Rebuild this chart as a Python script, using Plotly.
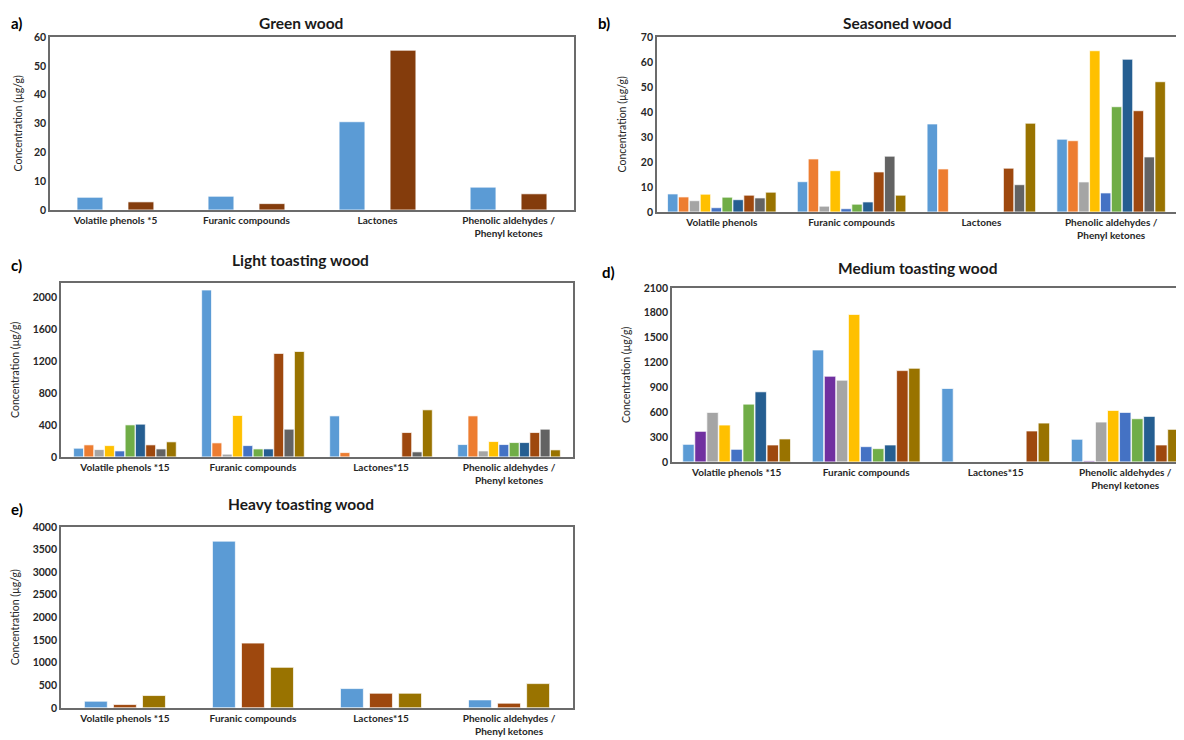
import plotly.graph_objects as go

W, H = 1184, 740

# ---------------- data ----------------
cats_a = ["Volatile phenols *5", "Furanic compounds", "Lactones", "Phenolic aldehydes /<br>Phenyl ketones"]
cats_b = ["Volatile phenols", "Furanic compounds", "Lactones", "Phenolic aldehydes /<br>Phenyl ketones"]
cats_cde = ["Volatile phenols *15", "Furanic compounds", "Lactones*15", "Phenolic aldehydes /<br>Phenyl ketones"]

# a) Green wood (2 series)
green_values = [
    [4.4, 4.75, 30.6, 7.9],
    [2.8, 2.2, 55.4, 5.6],
]
# b) Seasoned wood (10 series)
seasoned_values = [
    [7.2, 12.1, 35.2, 29.1],
    [6.0, 21.2, 17.2, 28.5],
    [4.5, 2.3, 0, 12.0],
    [7.1, 16.5, 0, 64.5],
    [1.7, 1.3, 0, 7.6],
    [5.9, 3.1, 0, 42.1],
    [4.9, 4.0, 0, 61.1],
    [6.7, 16.0, 17.5, 40.5],
    [5.6, 22.3, 10.9, 22.0],
    [7.9, 6.7, 35.5, 52.1],
]
# c) Light toasting wood (10 series)
light_values = [
    [109, 2096, 515, 155],
    [151, 176, 54, 515],
    [92, 34, 0, 75],
    [142, 520, 0, 193],
    [75, 142, 0, 155],
    [402, 100, 0, 180],
    [411, 100, 0, 180],
    [151, 1300, 306, 306],
    [100, 348, 63, 348],
    [189, 1324, 591, 88],
]
# d) Medium toasting wood (9 series)
medium_values = [
    [212, 1351, 886, 273],
    [369, 1034, 0, 12],
    [597, 986, 0, 481],
    [445, 1780, 0, 621],
    [152, 184, 0, 597],
    [697, 160, 0, 521],
    [846, 204, 0, 549],
    [204, 1102, 373, 204],
    [277, 1130, 469, 393],
]
# e) Heavy toasting wood (3 series)
heavy_values = [
    [147, 3685, 426, 176],
    [73, 1431, 323, 103],
    [272, 895, 323, 536],
]

# ---------------- styles ----------------
C = ["#5B9BD5", "#ED7D31", "#A5A5A5", "#FFC000", "#4472C4",
     "#70AD47", "#255E91", "#9E480E", "#636363", "#997300"]
colors_a = ["#5B9BD5", "#843C0C"]
colors_b = C
colors_c = C
colors_d = ["#5B9BD5", "#7030A0", "#A5A5A5", "#FFC000", "#4472C4",
            "#70AD47", "#255E91", "#9E480E", "#997300"]
colors_e = ["#5B9BD5", "#9E480E", "#997300"]

FONT = "Lato, 'Open Sans', sans-serif"
BORDER = "#6b6b6b"

# correction from target pixel coordinates to paper coordinates
DX, DY, SY = 7.0, 14.0, 0.984


def px(x):
    return (x - DX) / W


def fy(y):
    return (y - DY) / SY


def py(y):
    return 1 - fy(y) / H


def text_y(y, half=9.5):
    # keep text fully inside the figure
    return 1 - max(fy(y), half) / H


# panel pixel boxes: (left, right, top, bottom)
panels = [
    dict(key="a", title="Green wood", cats=cats_a, vals=green_values, cols=colors_a,
         box=(49, 574, 37, 210), yr=[0, 60], dt=10, pitch=0.389, width=0.197,
         title_xy=(300, 22), lab_xy=(8, 14), ytit_x=17),
    dict(key="b", title="Seasoned wood", cats=cats_b, vals=seasoned_values, cols=colors_b,
         box=(657, 1177, 37, 212), yr=[0, 70], dt=10, pitch=0.084, width=0.08,
         title_xy=(898, 14), lab_xy=(596, 18), ytit_x=623),
    dict(key="c", title="Light toasting wood", cats=cats_cde, vals=light_values, cols=colors_c,
         box=(60, 573, 283, 457), yr=[0, 2185], dt=400, pitch=0.0805, width=0.077,
         title_xy=(300, 260), lab_xy=(8, 265), ytit_x=14),
    dict(key="d", title="Medium toasting wood", cats=cats_cde, vals=medium_values, cols=colors_d,
         box=(672, 1191, 288, 462), yr=[0, 2100], dt=300, pitch=0.093, width=0.088,
         title_xy=(918, 268), lab_xy=(600, 272), ytit_x=626),
    dict(key="e", title="Heavy toasting wood", cats=cats_cde, vals=heavy_values, cols=colors_e,
         box=(60, 573, 527, 708), yr=[0, 4000], dt=500, pitch=0.227, width=0.179,
         title_xy=(300, 504), lab_xy=(8, 509), ytit_x=14),
]

fig = go.Figure()
annotations = []

for k, p in enumerate(panels, start=1):
    xa = "x" if k == 1 else f"x{k}"
    ya = "y" if k == 1 else f"y{k}"
    n = len(p["vals"])
    for i, (vals, col) in enumerate(zip(p["vals"], p["cols"])):
        off = (i - (n - 1) / 2) * p["pitch"] - p["width"] / 2
        fig.add_trace(go.Bar(
            x=p["cats"], y=vals, xaxis=xa, yaxis=ya,
            marker=dict(color=col, line=dict(color="rgba(255,255,255,0.7)", width=1)),
            width=p["width"], offset=off, showlegend=False,
            hoverinfo="y",
        ))
    L, R, T, B = p["box"]
    xd = [max(0.0, px(L)), min(1.0, px(R))]
    yd = [max(0.0, py(B)), min(1.0, py(T))]
    axis_x = dict(domain=xd, anchor=ya, type="category", range=[-0.5, 3.5],
                  showline=True, linecolor=BORDER, linewidth=1.5, mirror=True,
                  ticks="", showgrid=False, zeroline=False,
                  tickfont=dict(family=FONT, size=10, color="#262626", weight="bold"))
    axis_y = dict(domain=yd, anchor=xa, range=p["yr"], dtick=p["dt"], tick0=0,
                  showline=True, linecolor=BORDER, linewidth=1.5, mirror=True,
                  ticks="", showgrid=False, zeroline=False,
                  tickfont=dict(family=FONT, size=10.5, color="#262626", weight="bold"))
    if k == 1:
        fig.update_layout(xaxis=axis_x, yaxis=axis_y)
    else:
        fig.update_layout(**{f"xaxis{k}": axis_x, f"yaxis{k}": axis_y})

    tx, ty = p["title_xy"]
    annotations.append(dict(text=f"<b>{p['title']}</b>", x=px(tx), y=text_y(ty),
                            xref="paper", yref="paper", showarrow=False,
                            xanchor="center", yanchor="middle",
                            font=dict(family=FONT, size=15.5, color="#1a1a1a")))
    lx, ly = p["lab_xy"]
    annotations.append(dict(text=f"<b>{p['key']})</b>", x=max(0.0, px(lx)), y=text_y(ly),
                            xref="paper", yref="paper", showarrow=False,
                            xanchor="left", yanchor="middle",
                            font=dict(family=FONT, size=15, color="#000000")))
    annotations.append(dict(text="Concentration (µg/g)", x=max(0.0, px(p["ytit_x"])),
                            y=py((T + B) / 2), xref="paper", yref="paper",
                            showarrow=False, textangle=-90, xanchor="center", yanchor="middle",
                            font=dict(family=FONT, size=10.5, color="#262626")))

fig.update_layout(
    width=W, height=H, margin=dict(l=0, r=0, t=0, b=0),
    paper_bgcolor="white", plot_bgcolor="white",
    barmode="overlay", annotations=annotations,
    font=dict(family=FONT),
)

fig.write_html("out.html")
